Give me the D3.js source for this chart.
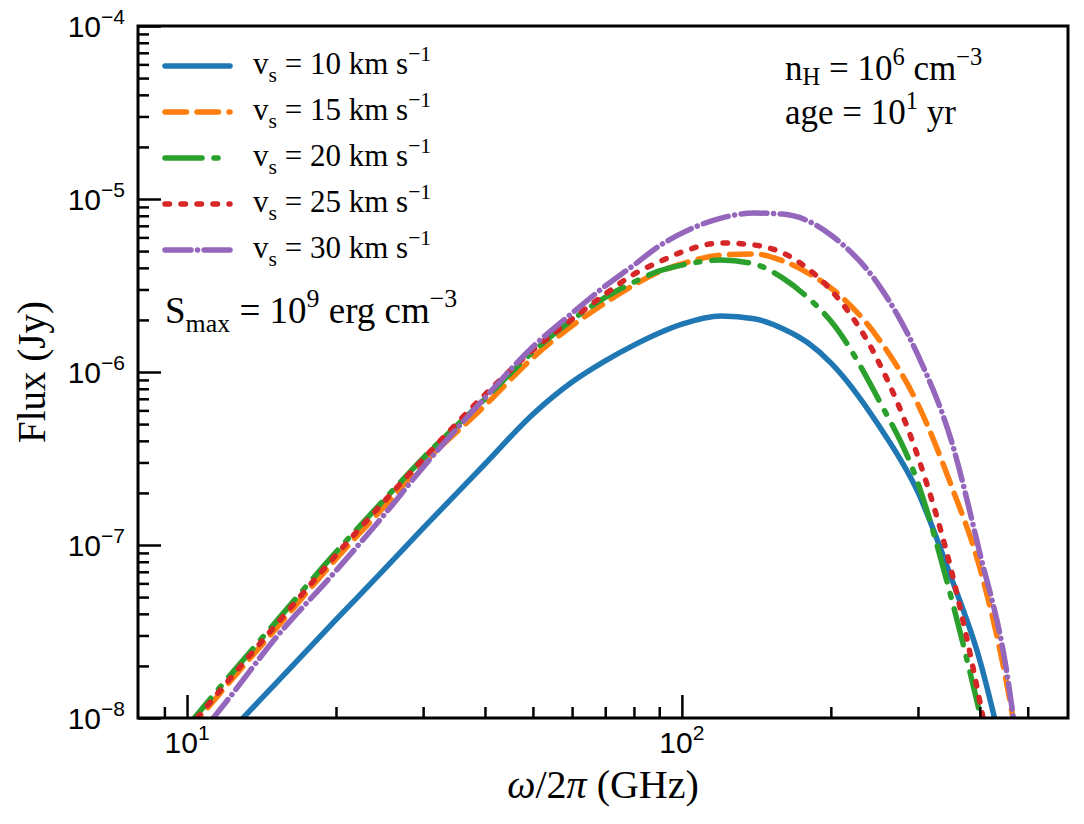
<!DOCTYPE html>
<html>
<head>
<meta charset="utf-8">
<script src="https://cdnjs.cloudflare.com/ajax/libs/d3/7.8.5/d3.min.js"></script>
<style>
  body { margin: 0; background: #fff; }
</style>
</head>
<body>
<script>
// frequency grid (GHz) shared by all curves
const freqs = [10, 12, 15, 20, 25, 30, 40, 50, 60, 70, 80, 90, 100, 120, 140, 160, 180, 200, 250, 300, 350, 400, 450, 500, 550];

// flux (Jy)
const flux10 = [4.6e-9, 7.9e-9, 1.55e-8, 3.7e-8, 7.2e-8, 1.25e-7, 2.94e-7, 5.7e-7, 8.75e-7, 1.16e-6, 1.43e-6, 1.68e-6, 1.89e-6, 2.11e-6, 2.03e-6, 1.78e-6, 1.47e-6, 1.13e-6, 4.9e-7, 2.02e-7, 6.5e-8, 2.16e-8, 5.5e-9, 1.4e-9, 4e-10];
const flux15 = [8.3e-9, 1.53e-8, 3.2e-8, 8.3e-8, 1.66e-7, 2.94e-7, 6.4e-7, 1.21e-6, 1.85e-6, 2.51e-6, 3.18e-6, 3.79e-6, 4.21e-6, 4.74e-6, 4.81e-6, 4.39e-6, 3.73e-6, 3.06e-6, 1.55e-6, 6.5e-7, 2.22e-7, 7.4e-8, 1.77e-8, 3.1e-9, 6.0e-10];
const flux20 = [8.9e-9, 1.66e-8, 3.5e-8, 9.1e-8, 1.82e-7, 3.18e-7, 7.0e-7, 1.31e-6, 2.00e-6, 2.70e-6, 3.31e-6, 3.84e-6, 4.15e-6, 4.44e-6, 4.21e-6, 3.49e-6, 2.68e-6, 1.97e-6, 6.9e-7, 2.28e-7, 5.0e-8, 1.07e-8, 2.5e-9, 6.8e-10, 1.5e-10];
const flux25 = [8.5e-9, 1.59e-8, 3.36e-8, 8.75e-8, 1.78e-7, 3.14e-7, 7.4e-7, 1.34e-6, 2.02e-6, 2.82e-6, 3.68e-6, 4.33e-6, 4.94e-6, 5.57e-6, 5.42e-6, 4.88e-6, 3.94e-6, 2.98e-6, 1.14e-6, 3.23e-7, 7.2e-8, 1.25e-8, 2.0e-9, 4.6e-10, 1e-10];
const flux30 = [6.5e-9, 1.24e-8, 2.83e-8, 7.1e-8, 1.49e-7, 2.82e-7, 7.1e-7, 1.40e-6, 2.19e-6, 3.14e-6, 4.15e-6, 5.35e-6, 6.35e-6, 7.76e-6, 8.30e-6, 8.18e-6, 7.46e-6, 6.19e-6, 3.18e-6, 1.25e-6, 4.05e-7, 9.0e-8, 2.11e-8, 2.25e-9, 2.7e-10];

const speeds = ["10", "15", "20", "25", "30"];
const colors = ["#1f77b4", "#ff7f0e", "#2ca02c", "#d62728", "#9467bd"];
const dashes = [null, "21.5,10.5", "37,12,4,12", "4.5,11.5", "26,6.5,0.1,6.5"];

const xMajor = [10, 100];
const xMinor = [9, 20, 30, 40, 50, 60, 70, 80, 90, 200, 300, 400, 500];
const yMajor = [1e-8, 1e-7, 1e-6, 1e-5, 1e-4];

const W = 1084, H = 824;
const plot = { left: 138, top: 26, right: 1068, bottom: 718 };

const svg = d3.select("body").append("svg")
    .attr("width", W)
    .attr("height", H);

const x = d3.scaleLog().domain([7.96, 603]).range([plot.left, plot.right]);
const y = d3.scaleLog().domain([1e-8, 1e-4]).range([plot.bottom, plot.top]);

const serif = "Liberation Serif, serif";
const sans = "Liberation Sans, Arial, sans-serif";

// text with sub/superscripts made from tspans
function richText(g, px, py, parts, size, family, anchor, subShift) {
    const t = g.append("text")
        .attr("x", px)
        .attr("y", py)
        .attr("font-family", family)
        .attr("font-size", size + "px")
        .attr("text-anchor", anchor || "start")
        .attr("fill", "#000");
    let shift = 0;
    parts.forEach(p => {
        let target = 0, fs = size;
        if (p.sub) { target = size * (subShift || 0.25); fs = size * 0.7; }
        if (p.sup) { target = -size * 0.42; fs = size * 0.7; }
        t.append("tspan")
            .attr("dy", target - shift)
            .attr("font-size", fs + "px")
            .attr("font-style", p.it ? "italic" : null)
            .style("white-space", "pre")
            .text(p.t);
        shift = target;
    });
    return t;
}

svg.append("defs").append("clipPath").attr("id", "clip")
    .append("rect")
    .attr("x", plot.left).attr("y", plot.top)
    .attr("width", plot.right - plot.left).attr("height", plot.bottom - plot.top);

// curves
const series = [flux10, flux15, flux20, flux25, flux30];
const line = d3.line()
    .x((d, i) => x(freqs[i]))
    .y(d => y(d))
    .curve(d3.curveMonotoneX);

const curves = svg.append("g").attr("clip-path", "url(#clip)");
series.forEach((s, k) => {
    curves.append("path")
        .datum(s)
        .attr("d", line)
        .attr("fill", "none")
        .attr("stroke", colors[k])
        .attr("stroke-width", 5.5)
        .attr("stroke-linecap", "round")
        .attr("stroke-linejoin", "round")
        .attr("stroke-dasharray", dashes[k]);
});

// axes, ticks pointing inwards
const xAxisG = svg.append("g").attr("transform", `translate(0,${plot.bottom})`);
xAxisG.call(d3.axisBottom(x).tickValues(xMajor).tickSize(-23).tickFormat(""));
const xMinorG = svg.append("g").attr("transform", `translate(0,${plot.bottom})`);
xMinorG.call(d3.axisBottom(x).tickValues(xMinor).tickSize(-11).tickFormat(""));

const yMinor = [];
[1e-8, 1e-7, 1e-6, 1e-5].forEach(dec => {
    for (let m = 2; m <= 9; m++) yMinor.push(m * dec);
});
const yAxisG = svg.append("g").attr("transform", `translate(${plot.left},0)`);
yAxisG.call(d3.axisLeft(y).tickValues(yMajor).tickSize(-23).tickFormat(""));
const yMinorG = svg.append("g").attr("transform", `translate(${plot.left},0)`);
yMinorG.call(d3.axisLeft(y).tickValues(yMinor).tickSize(-11).tickFormat(""));

[xAxisG, xMinorG, yAxisG, yMinorG].forEach(g => {
    g.select(".domain").remove();
    g.selectAll(".tick line").attr("stroke", "#000").attr("stroke-width", 2.5);
});

// frame
svg.append("rect")
    .attr("x", plot.left).attr("y", plot.top)
    .attr("width", plot.right - plot.left).attr("height", plot.bottom - plot.top)
    .attr("fill", "none")
    .attr("stroke", "#000")
    .attr("stroke-width", 3);

// tick labels
xMajor.forEach(v => {
    richText(svg, x(v), plot.bottom + 35, [
        { t: "10" }, { t: String(Math.round(Math.log10(v))), sup: true }
    ], 30, sans, "middle");
});
yMajor.forEach(v => {
    richText(svg, 125, y(v) + 11, [
        { t: "10" }, { t: "\u2212" + String(-Math.round(Math.log10(v))), sup: true }
    ], 30, sans, "end");
});

// axis labels
richText(svg, (plot.left + plot.right) / 2, 798, [
    { t: "\u03C9", it: true }, { t: "/2" }, { t: "\u03C0", it: true }, { t: " (GHz)" }
], 40, serif, "middle");

const yl = svg.append("g").attr("transform", `translate(45,${(plot.top + plot.bottom) / 2}) rotate(-90)`);
richText(yl, 0, 0, [{ t: "Flux (Jy)" }], 39, serif, "middle");

// legend
const legend = svg.append("g");
speeds.forEach((v, k) => {
    const ly = 66 + k * 46;
    legend.append("line")
        .attr("x1", 165).attr("x2", 230)
        .attr("y1", ly).attr("y2", ly)
        .attr("stroke", colors[k])
        .attr("stroke-width", 5.5)
        .attr("stroke-linecap", "round")
        .attr("stroke-dasharray", dashes[k]);
    richText(legend, 253, ly + 8, [
        { t: "v" }, { t: "s", sub: true }, { t: " = " + v + " km s" }, { t: "\u22121", sup: true }
    ], 31, serif);
});

// annotations
richText(svg, 165, 323, [
    { t: "S" }, { t: "max", sub: true }, { t: " = 10" }, { t: "9", sup: true }, { t: " erg cm" }, { t: "\u22123", sup: true }
], 37, serif);
richText(svg, 785, 80, [
    { t: "n" }, { t: "H", sub: true }, { t: " = 10" }, { t: "6", sup: true }, { t: " cm" }, { t: "\u22123", sup: true }
], 35, serif, "start", 0.13);
richText(svg, 785, 124, [
    { t: "age = 10" }, { t: "1", sup: true }, { t: " yr" }
], 35, serif);
</script>
</body>
</html>
